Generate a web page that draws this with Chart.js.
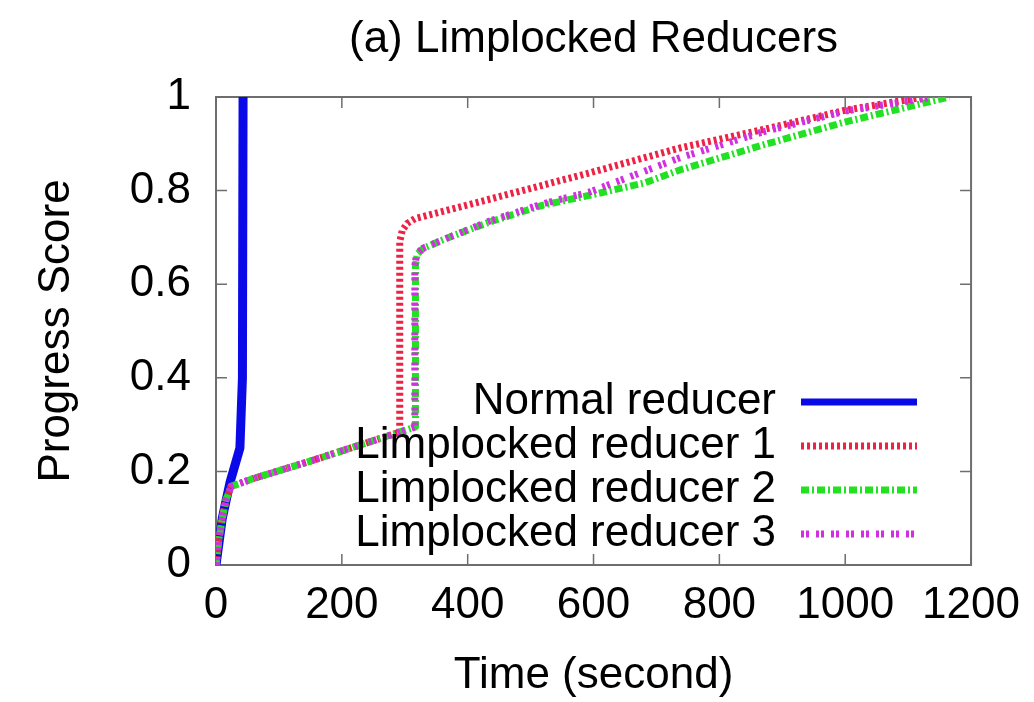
<!DOCTYPE html>
<html>
<head>
<meta charset="utf-8">
<script src="https://cdn.jsdelivr.net/npm/chart.js@4/dist/chart.umd.min.js"></script>
<style>
  html, body { margin: 0; padding: 0; background: #ffffff; }
  #wrap { position: relative; width: 1034px; height: 702px; }
</style>
</head>
<body>
<div id="wrap"><canvas id="c"></canvas></div>
<script>
// ---- data ----
const chartTitle = '(a) Limplocked Reducers';
const xTitle = 'Time (second)';
const yTitle = 'Progress Score';
const xTickLabels = ['0', '200', '400', '600', '800', '1000', '1200'];
const yTickLabels = ['0', '0.2', '0.4', '0.6', '0.8', '1'];
const seriesNames = ['Normal reducer', 'Limplocked reducer 1', 'Limplocked reducer 2', 'Limplocked reducer 3'];

const normalTime  = [0, 10, 22, 38, 42, 43];
const normalScore = [0, 0.10, 0.175, 0.25, 0.40, 1.0];

const limp1Time  = [0, 4, 10, 16, 24, 60, 150, 292, 292, 296, 304, 316, 450, 594, 737, 868, 1001, 1125];
const limp1Score = [0, 0.05, 0.10, 0.14, 0.168, 0.185, 0.222, 0.284, 0.69, 0.715, 0.730, 0.740, 0.787, 0.838, 0.891, 0.930, 0.972, 1.0];

const limp2Time  = [0, 4, 10, 16, 24, 60, 150, 292, 317, 317, 320, 330, 370, 435, 520, 594, 680, 737, 868, 1001, 1165];
const limp2Score = [0, 0.05, 0.10, 0.14, 0.168, 0.185, 0.222, 0.284, 0.295, 0.64, 0.665, 0.677, 0.700, 0.733, 0.769, 0.790, 0.816, 0.844, 0.897, 0.947, 1.0];

const limp3Time  = [0, 4, 10, 16, 24, 60, 150, 292, 316, 316, 319, 329, 370, 435, 520, 594, 737, 868, 1001, 1140];
const limp3Score = [0, 0.05, 0.10, 0.14, 0.168, 0.185, 0.222, 0.284, 0.295, 0.64, 0.665, 0.677, 0.700, 0.735, 0.772, 0.797, 0.870, 0.925, 0.970, 1.0];

function pts(xs, ys) { return xs.map((x, i) => ({ x: x, y: ys[i] })); }

const FONT = "'Liberation Sans', Arial, sans-serif";
const FS = 44;

const styles = [
  { color: '#0a0ae8', width: 9, dash: [] },
  { color: '#ee2244', width: 7, dash: [3, 3] },
  { color: '#22e022', width: 7, dash: [8, 3, 2, 3] },
  { color: '#d030e0', width: 7, dash: [3, 2, 3, 7] }
];

const frameAndTicks = {
  id: 'frameAndTicks',
  beforeDatasetsDraw(chart) {
    const { ctx, chartArea: a, scales } = chart;
    ctx.save();
    ctx.strokeStyle = '#6e6e6e';
    ctx.lineWidth = 2;
    ctx.strokeRect(a.left, a.top, a.right - a.left, a.bottom - a.top);
    ctx.lineWidth = 1.5;
    const L = 11;
    scales.x.ticks.forEach(t => {
      const px = scales.x.getPixelForValue(t.value);
      ctx.beginPath();
      ctx.moveTo(px, a.bottom); ctx.lineTo(px, a.bottom - L);
      ctx.moveTo(px, a.top); ctx.lineTo(px, a.top + L);
      ctx.stroke();
    });
    scales.y.ticks.forEach(t => {
      const py = scales.y.getPixelForValue(t.value);
      ctx.beginPath();
      ctx.moveTo(a.left, py); ctx.lineTo(a.left + L, py);
      ctx.moveTo(a.right, py); ctx.lineTo(a.right - L, py);
      ctx.stroke();
    });
    ctx.restore();
  }
};

const titleOverArea = {
  id: 'titleOverArea',
  afterDraw(chart) {
    const { ctx, chartArea: a } = chart;
    ctx.save();
    ctx.font = FS + 'px ' + FONT;
    ctx.fillStyle = '#000';
    ctx.textAlign = 'center';
    ctx.textBaseline = 'middle';
    ctx.fillText(chartTitle, (a.left + a.right) / 2, 40);
    ctx.restore();
  }
};

const rightLegend = {
  id: 'rightLegend',
  afterDatasetsDraw(chart) {
    const { ctx } = chart;
    const ys = [402, 446, 490, 534];
    ctx.save();
    chart.data.datasets.forEach((ds, i) => {
      ctx.font = FS + 'px ' + FONT;
      ctx.fillStyle = '#000';
      ctx.textAlign = 'right';
      ctx.textBaseline = 'middle';
      ctx.fillText(ds.label, 776, ys[i]);
      ctx.beginPath();
      ctx.strokeStyle = ds.borderColor;
      ctx.lineWidth = Math.min(ds.borderWidth, 7);
      ctx.setLineDash(ds.borderDash || []);
      ctx.moveTo(801, ys[i]);
      ctx.lineTo(917, ys[i]);
      ctx.stroke();
      ctx.setLineDash([]);
    });
    ctx.restore();
  }
};

const series = [
  pts(normalTime, normalScore),
  pts(limp1Time, limp1Score),
  pts(limp2Time, limp2Score),
  pts(limp3Time, limp3Score)
];

// higher order = drawn first (underneath); the normal reducer sits below the others
const drawOrder = [10, 3, 2, 1];

const datasets = series.map((d, i) => ({
  label: seriesNames[i],
  data: d,
  borderColor: styles[i].color,
  borderWidth: styles[i].width,
  borderDash: styles[i].dash,
  borderCapStyle: 'butt',
  borderJoinStyle: 'round',
  pointRadius: 0,
  tension: 0,
  fill: false,
  order: drawOrder[i]
}));

new Chart(document.getElementById('c'), {
  type: 'line',
  data: { datasets: datasets },
  plugins: [frameAndTicks, rightLegend, titleOverArea],
  options: {
    responsive: true,
    maintainAspectRatio: false,
    animation: false,
    layout: { padding: { left: 0, right: 62, top: 97, bottom: 0 } },
    plugins: {
      legend: { display: false },
      tooltip: { enabled: false },
      title: { display: false }
    },
    scales: {
      x: {
        type: 'linear',
        min: 0, max: 1200,
        grid: { display: false, drawTicks: false },
        border: { display: false },
        ticks: {
          stepSize: 200,
          color: '#000',
          padding: 14,
          maxRotation: 0,
          font: { family: FONT, size: FS, lineHeight: 1.2 },
          callback: (v) => xTickLabels[Math.round(v / 200)]
        },
        title: {
          display: true, text: xTitle, color: '#000',
          font: { family: FONT, size: FS, lineHeight: 1.2 },
          padding: { top: 0, bottom: 0 }
        },
        afterFit: (s) => { s.height = 137; }
      },
      y: {
        type: 'linear',
        min: 0, max: 1,
        grid: { display: false, drawTicks: false },
        border: { display: false },
        ticks: {
          stepSize: 0.2,
          color: '#000',
          padding: 25,
          font: { family: FONT, size: FS, lineHeight: 1.2 },
          callback: (v) => yTickLabels[Math.round(v / 0.2)]
        },
        title: {
          display: true, text: yTitle, color: '#000',
          font: { family: FONT, size: FS, lineHeight: 1.2 },
          padding: { top: 30, bottom: 0 }
        },
        afterFit: (s) => { s.width = 216; }
      }
    }
  }
});
</script>
</body>
</html>
